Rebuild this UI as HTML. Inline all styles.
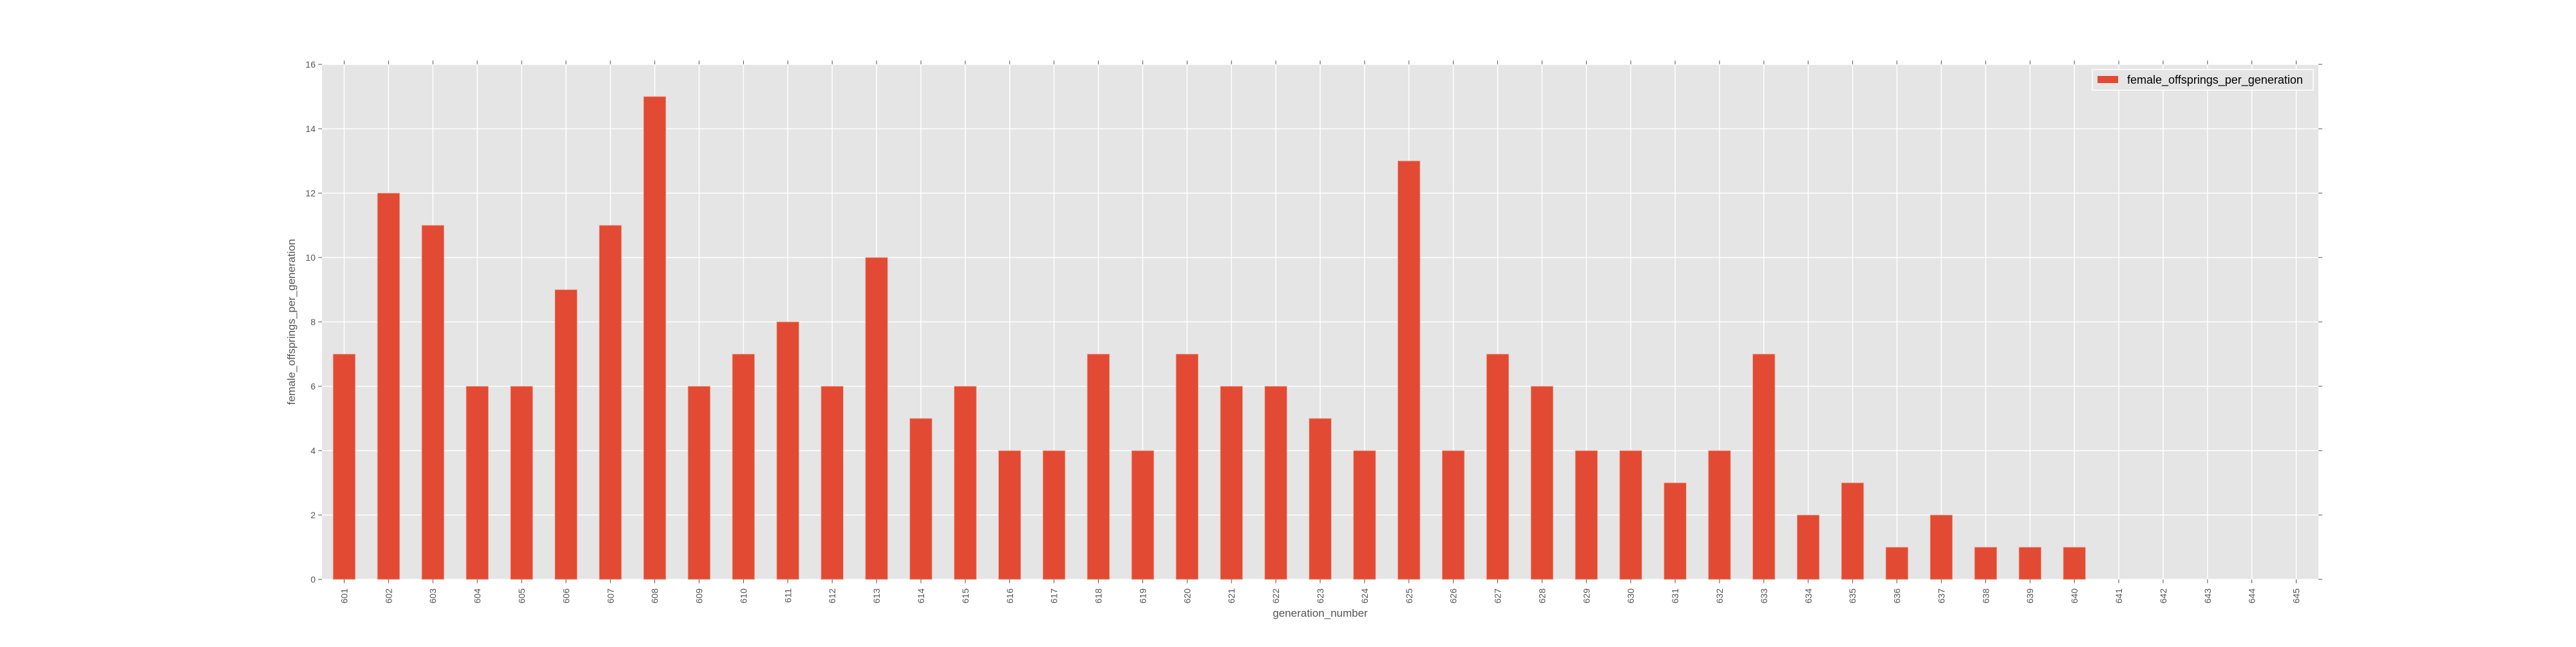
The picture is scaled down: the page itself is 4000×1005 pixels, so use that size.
<!DOCTYPE html>
<html><head><meta charset="utf-8"><style>
html,body{margin:0;padding:0;background:#fff;}
svg text{font-family:"Liberation Sans","DejaVu Sans",sans-serif;}
</style></head><body>
<svg id="chart" width="4000" height="1000" xmlns="http://www.w3.org/2000/svg">
<rect x="500" y="100" width="3100" height="800" fill="#e5e5e5"/>
<g id="grid"></g>
<g id="bars"></g>
<g id="ticks"></g>
<text x="2050" y="958" font-size="17" fill="#555" text-anchor="middle">generation_number</text>
<text x="458" y="500" font-size="17" fill="#555" text-anchor="middle" transform="rotate(-90 458 500)">female_offsprings_per_generation</text>
<g>
<rect x="3249" y="108" width="343" height="32" fill="#e5e5e5" stroke="#fff" stroke-width="1.5"/>
<rect x="3257" y="118" width="32" height="11" fill="#e24a33"/>
<text x="3303" y="130" font-size="18" fill="#000">female_offsprings_per_generation</text>
</g>
</svg>
<script>
const categories = [601,602,603,604,605,606,607,608,609,610,611,612,613,614,615,616,617,618,619,620,621,622,623,624,625,626,627,628,629,630,631,632,633,634,635,636,637,638,639,640,641,642,643,644,645];
const values = [7,12,11,6,6,9,11,15,6,7,8,6,10,5,6,4,4,7,4,7,6,6,5,4,13,4,7,6,4,4,3,4,7,2,3,1,2,1,1,1,0,0,0,0,0];
const yTicks = [0,2,4,6,8,10,12,14,16];
const NS="http://www.w3.org/2000/svg";
const L=500,R=3600,T=100,B=900,yMax=16;
const step=(R-L)/categories.length;
function xs(i){return L+step*(i+0.5);}
function ys(v){return B-(v/yMax)*(B-T);}
function mk(tag,attrs,parent){const e=document.createElementNS(NS,tag);for(const k in attrs)e.setAttribute(k,attrs[k]);parent.appendChild(e);return e;}
const grid=document.getElementById('grid'),bars=document.getElementById('bars'),ticks=document.getElementById('ticks');
yTicks.forEach(t=>{
  const y=ys(t);
  const g=mk('line',{x1:L,x2:R,y1:y,y2:y,stroke:'#fff','stroke-width':1.5},grid);
  
  
  mk('line',{x1:L-6,x2:L,y1:y,y2:y,stroke:'#555','stroke-width':1},ticks);
  mk('line',{x1:R,x2:R+6,y1:y,y2:y,stroke:'#555','stroke-width':1},ticks);
  const tx=mk('text',{x:L-10,y:y+5,'font-size':14,fill:'#555','text-anchor':'end'},ticks);
  tx.textContent=t;
  
  
});
categories.forEach((c,i)=>{
  const x=xs(i);
  const g=mk('line',{x1:x,x2:x,y1:T,y2:B,stroke:'#fff','stroke-width':1.5},grid);
  
  
  mk('line',{x1:x,x2:x,y1:B,y2:B+6,stroke:'#555','stroke-width':1},ticks);
  mk('line',{x1:x,x2:x,y1:T-6,y2:T,stroke:'#555','stroke-width':1},ticks);
  const tx=mk('text',{x:x+5,y:B+14,'font-size':14,fill:'#555','text-anchor':'end',transform:`rotate(-90 ${x+5} ${B+14})`},ticks);
  tx.textContent=c;
  
  
  const v=values[i];
  if(v>0){
    const b=mk('rect',{x:x-step*0.25,y:ys(v),width:step*0.5,height:B-ys(v),fill:'#e24a33',stroke:'#eaa896','stroke-width':0.8},bars);
    
    
  }
});
</script>
</body></html>
